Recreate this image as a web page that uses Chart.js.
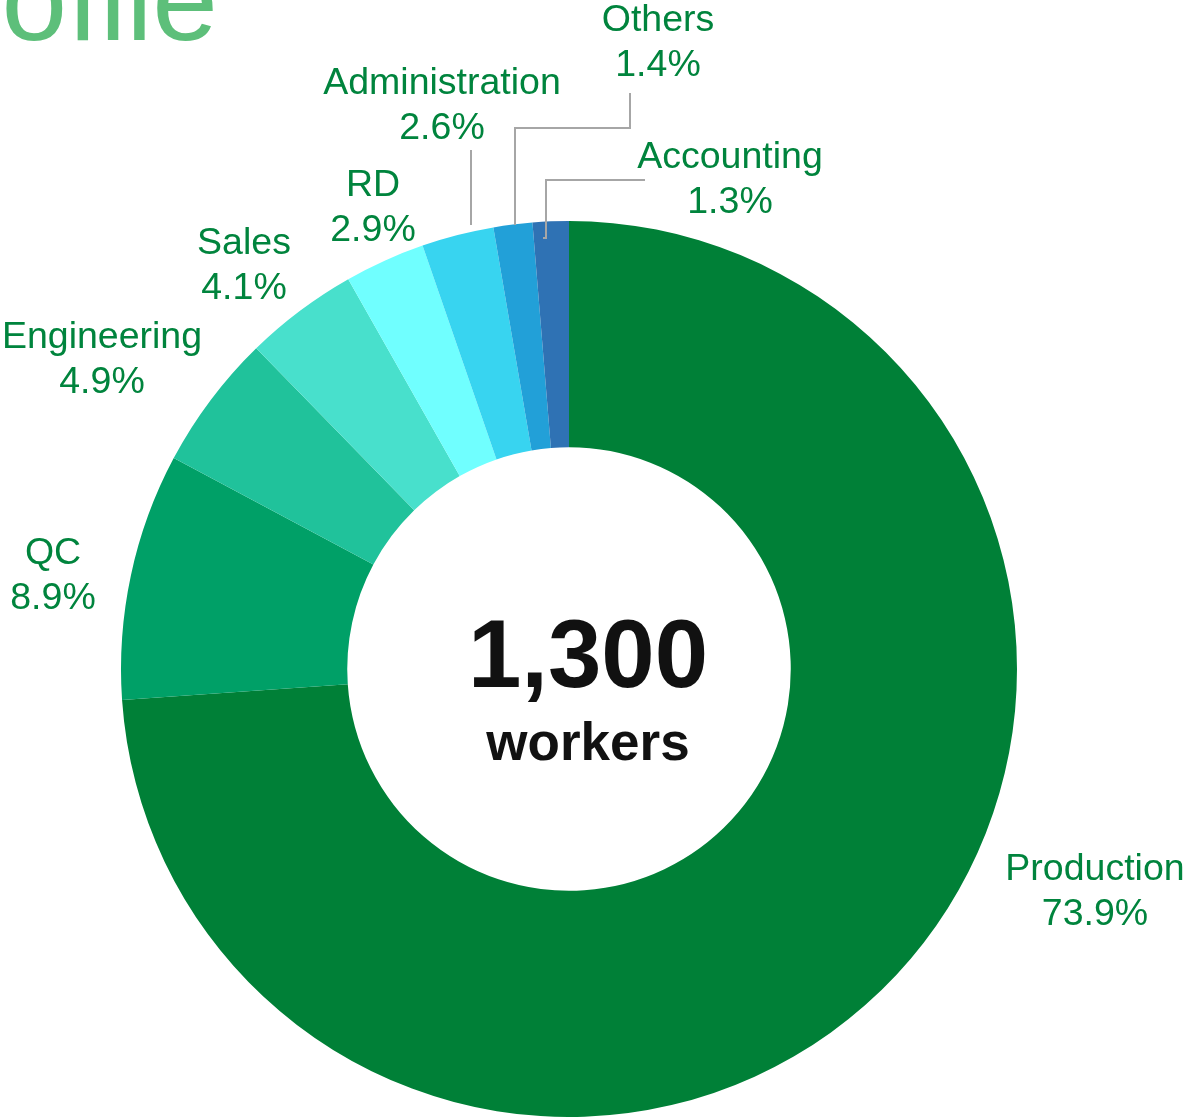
<!DOCTYPE html>
<html>
<head>
    <title>Workforce profile</title>
    <style>
        body {
            margin: 0;
            padding: 0;
            background-color: #ffffff;
            overflow: hidden;
        }
        #wrap {
            position: relative;
            width: 1186px;
            height: 1117px;
        }
    </style>
    <script src="https://cdn.jsdelivr.net/npm/chart.js"></script>
</head>
<body>
    <div id="wrap">
        <canvas id="staffChart" width="1186" height="1117"></canvas>
    </div>
    <script>
        // departments, in drawing order (clockwise from 12 o'clock)
        const departments = ['Production', 'QC', 'Engineering', 'Sales', 'RD', 'Administration', 'Others', 'Accounting'];
        const shares = [73.9, 8.9, 4.9, 4.1, 2.9, 2.6, 1.4, 1.3];
        const sliceColors = ['#008037', '#00a067', '#20c29b', '#48e0cc', '#70ffff', '#38d4f0', '#22a0d8', '#2f72b4'];
        const totalWorkers = '1,300';
        const totalCaption = 'workers';

        // where each label sits (centre x, first baseline y)
        const labelSpots = [
            [1095, 880], [53, 564], [102, 348], [244, 254],
            [373, 196], [442, 94], [658, 31], [730, 168]
        ];
        // hand drawn leader lines, [x, y] points
        const leaders = [
            [[471, 150], [471, 225]],
            [[630, 93], [630, 128], [515, 128], [515, 225]],
            [[645, 180], [546, 180], [546, 238], [543, 238]]
        ];

        const labelPlugin = {
            id: 'labelPlugin',
            afterDraw(chart) {
                const ctx = chart.ctx;
                ctx.save();

                // heading cut off at the top of the picture
                ctx.fillStyle = '#5dbf7a';
                ctx.font = '118px "Liberation Sans", Arial, sans-serif';
                ctx.textAlign = 'right';
                ctx.textBaseline = 'alphabetic';
                ctx.fillText('Profile', 218, 40);

                ctx.strokeStyle = '#a6a6a6';
                ctx.lineWidth = 2;
                leaders.forEach(pts => {
                    ctx.beginPath();
                    pts.forEach((p, i) => i ? ctx.lineTo(p[0], p[1]) : ctx.moveTo(p[0], p[1]));
                    ctx.stroke();
                });

                ctx.fillStyle = '#00843d';
                ctx.font = '37.5px "Liberation Sans", Arial, sans-serif';
                ctx.textAlign = 'center';
                departments.forEach((name, i) => {
                    const [x, y] = labelSpots[i];
                    ctx.fillText(name, x, y);
                    ctx.fillText(shares[i].toFixed(1) + '%', x, y + 45);
                });

                // centre text
                const arc = chart.getDatasetMeta(0).data[0];
                ctx.fillStyle = '#111111';
                ctx.font = 'bold 96px "Liberation Sans", Arial, sans-serif';
                ctx.fillText(totalWorkers, arc.x + 19, 687);
                ctx.font = 'bold 53px "Liberation Sans", Arial, sans-serif';
                ctx.fillText(totalCaption, arc.x + 19, 760);
                ctx.restore();
            }
        };

        new Chart(document.getElementById('staffChart'), {
            type: 'doughnut',
            data: {
                labels: departments,
                datasets: [{
                    data: shares,
                    backgroundColor: sliceColors,
                    borderWidth: 0
                }]
            },
            options: {
                responsive: false,
                animation: false,
                cutout: '49.5%',
                layout: {
                    padding: { left: 120, right: 168, top: 221, bottom: 0 }
                },
                plugins: {
                    legend: { display: false },
                    tooltip: { enabled: false }
                }
            },
            plugins: [labelPlugin]
        });
    </script>
</body>
</html>
